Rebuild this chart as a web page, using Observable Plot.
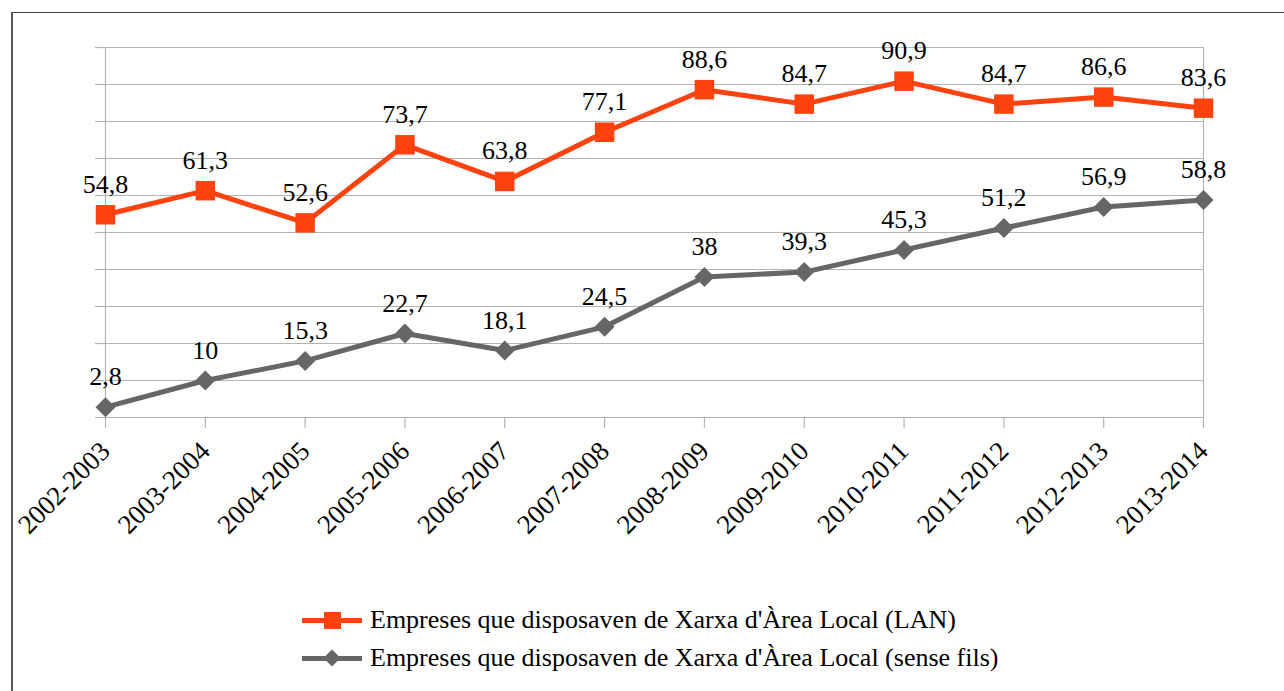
<!DOCTYPE html>
<html>
<head>
<meta charset="utf-8">
<script src="https://cdn.jsdelivr.net/npm/d3@7"></script>
<script src="https://cdn.jsdelivr.net/npm/@observablehq/plot@0.6"></script>
<style>
  html, body { margin: 0; padding: 0; background: #fff; }
  #wrap { position: relative; width: 1284px; height: 691px; overflow: hidden; font-family: "Liberation Serif", serif; }
  #frame { position: absolute; left: 11px; top: 12px; width: 1400px; height: 800px; border-left: 2px solid #5a5a5a; border-top: 1px solid #404040; box-sizing: border-box; pointer-events: none; }
  #chart { position: absolute; left: 0; top: 0; }
  #chart svg, #chart svg g, #chart svg text { font-family: "Liberation Serif", "Times New Roman", serif !important; }
  #legend { position: absolute; left: 302px; top: 601px; font-size: 26px; color: #000; }
  .row { display: flex; align-items: center; height: 38px; }
  .sw { position: relative; width: 60px; height: 20px; margin-right: 8px; }
  .sw .ln { position: absolute; left: 0; right: 0; top: 7.5px; height: 5px; }
  .sw .mk { position: absolute; }
</style>
</head>
<body>
<div id="wrap">
  <div id="chart"></div>
  <div id="frame"></div>
  <div id="legend"></div>
</div>
<script>
const categories = ["2002-2003","2003-2004","2004-2005","2005-2006","2006-2007","2007-2008","2008-2009","2009-2010","2010-2011","2011-2012","2012-2013","2013-2014"];
const lanValues = [54.8, 61.3, 52.6, 73.7, 63.8, 77.1, 88.6, 84.7, 90.9, 84.7, 86.6, 83.6];
const wifiValues = [2.8, 10, 15.3, 22.7, 18.1, 24.5, 38, 39.3, 45.3, 51.2, 56.9, 58.8];
const yTicks = [0, 10, 20, 30, 40, 50, 60, 70, 80, 90, 100];
const seriesNames = ["Empreses que disposaven de Xarxa d'Àrea Local (LAN)", "Empreses que disposaven de Xarxa d'Àrea Local (sense fils)"];
const colors = ["#ff420e", "#666666"];

const lan = categories.map((c, i) => ({cat: c, v: lanValues[i]}));
const wifi = categories.map((c, i) => ({cat: c, v: wifiValues[i]}));
const fmt = d => String(d.v).replace(".", ",");
const grid = "#b3b3b3";
const serif = '"Liberation Serif", serif';

const chart = Plot.plot({
  width: 1284,
  height: 590,
  marginLeft: 105,
  marginRight: 81,
  marginTop: 47,
  marginBottom: 173,
  style: {fontFamily: serif, background: "transparent", color: "#000"},
  x: {type: "point", domain: categories, padding: 0, round: false, label: null},
  y: {domain: [0, 100], label: null},
  marks: [
    Plot.ruleY(yTicks, {stroke: grid, strokeWidth: 1.2}),
    Plot.ruleX([categories[0], categories[categories.length - 1]], {stroke: grid, strokeWidth: 1.2}),
    Plot.axisY(yTicks, {tickSize: 10, tickFormat: () => "", stroke: grid, strokeWidth: 1.2}),
    Plot.axisX({tickSize: 11, tickRotate: -45, fontSize: 27, fontFamily: serif, stroke: grid, strokeWidth: 1.2, fill: "#000", tickPadding: 18}),
    Plot.line(lan, {x: "cat", y: "v", stroke: colors[0], strokeWidth: 5}),
    Plot.line(wifi, {x: "cat", y: "v", stroke: colors[1], strokeWidth: 5}),
    Plot.dot(lan, {x: "cat", y: "v", symbol: "square", r: 11, fill: colors[0], stroke: "none"}),
    Plot.dot(wifi, {x: "cat", y: "v", symbol: "diamond2", r: 9, fill: colors[1], stroke: "none"}),
    Plot.text(lan, {x: "cat", y: "v", text: fmt, fontSize: 26, fontFamily: serif, lineAnchor: "bottom", dy: -22, fill: "#000"}),
    Plot.text(wifi, {x: "cat", y: "v", text: fmt, fontSize: 26, fontFamily: serif, lineAnchor: "bottom", dy: -22, fill: "#000"})
  ]
});
document.getElementById("chart").appendChild(chart);

const legend = document.getElementById("legend");
seriesNames.forEach((name, i) => {
  const row = document.createElement("div");
  row.className = "row";
  const sw = document.createElement("div");
  sw.className = "sw";
  const ln = document.createElement("div");
  ln.className = "ln";
  ln.style.background = colors[i];
  const mk = document.createElement("div");
  mk.className = "mk";
  mk.style.background = colors[i];
  if (i === 0) {
    mk.style.width = "17px"; mk.style.height = "17px"; mk.style.left = "21.5px"; mk.style.top = "1.5px";
  } else {
    mk.style.width = "12px"; mk.style.height = "12px"; mk.style.left = "24px"; mk.style.top = "4px"; mk.style.transform = "rotate(45deg)";
  }
  sw.appendChild(ln); sw.appendChild(mk);
  const t = document.createElement("span");
  t.textContent = name;
  row.appendChild(sw); row.appendChild(t);
  legend.appendChild(row);
});
</script>
</body>
</html>
